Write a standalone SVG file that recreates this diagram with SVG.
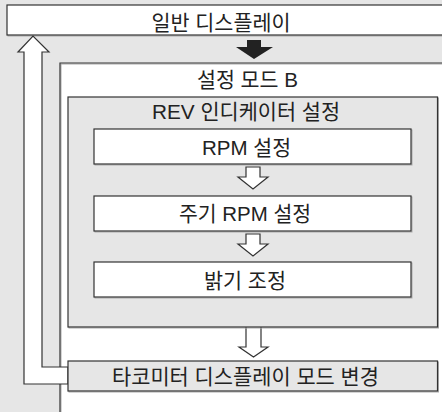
<svg xmlns="http://www.w3.org/2000/svg" width="442" height="412" viewBox="0 0 442 412">
<style>
.bx{stroke:#333;stroke-width:1.2}
.w{fill:#fff}
.g{fill:#e6e6e6}
.sh{fill:none;stroke:#aaa;stroke-width:1}
.t{font-family:"Liberation Sans","Noto Sans CJK KR",sans-serif;font-size:21px;fill:#222;text-anchor:middle}
.ar{fill:#fff;stroke:#333;stroke-width:1.2;stroke-linejoin:miter}
</style>
<rect x="0" y="0" width="442" height="412" fill="#e6e6e6"/>
<g id="node-general">
<rect class="sh" x="8" y="6" width="450" height="30"/>
<rect class="bx w" x="7" y="5" width="450" height="30"/>
<text class="t" x="221" y="30" textLength="139" lengthAdjust="spacingAndGlyphs">일반 디스플레이</text>
</g>
<g id="node-modeB">
<path d="M60 412 V63 H442 V412 Z" fill="#fff"/>
<path class="sh" d="M61 412 V64 H442"/>
<path class="bx" fill="none" d="M60 412 V63 H442"/>
<text class="t" x="247.5" y="87" textLength="101" lengthAdjust="spacingAndGlyphs">설정 모드 B</text>
</g>
<g id="connectors">
<polygon fill="#222" points="247,40 261,40 261,47 273,47 254,59 236,47 247,47"/>
<polygon class="ar" points="24,384 68,384 68,367 42,367 42,52 49,52 33,36 18,52 24,52"/>
<polygon class="ar" points="246,301 261,301 261,347 268,347 253.5,357 239,347 246,347"/>
</g>
<g id="node-rev">
<rect class="sh" x="69" y="98" width="369.5" height="230"/>
<rect class="bx g" x="68" y="97" width="369.5" height="230"/>
<text class="t" x="246" y="119" textLength="188" lengthAdjust="spacingAndGlyphs">REV 인디케이터 설정</text>
</g>
<g id="connectors-inner">
<polygon class="ar" points="246,167 260,167 260,177 268,177 253,189 238,177 246,177"/>
<polygon class="ar" points="246,234 260,234 260,244 268,244 253,256 238,244 246,244"/>
</g>
<g id="node-rpm">
<rect class="sh" x="95" y="130" width="317" height="35"/>
<rect class="bx w" x="94" y="129" width="317" height="35"/>
<text class="t" x="246.5" y="155" textLength="89" lengthAdjust="spacingAndGlyphs">RPM 설정</text>
</g>
<g id="node-cycle">
<rect class="sh" x="95" y="197" width="317" height="35"/>
<rect class="bx w" x="94" y="196" width="317" height="35"/>
<text class="t" x="245" y="221" textLength="132" lengthAdjust="spacingAndGlyphs">주기 RPM 설정</text>
</g>
<g id="node-bright">
<rect class="sh" x="95" y="263" width="317" height="35"/>
<rect class="bx w" x="94" y="262" width="317" height="35"/>
<text class="t" x="245" y="288" textLength="82" lengthAdjust="spacingAndGlyphs">밝기 조정</text>
</g>
<g id="node-tacho">
<rect class="sh" x="69" y="362" width="369.5" height="30"/>
<rect class="bx g" x="68" y="361" width="369.5" height="30"/>
<text class="t" x="245.5" y="384" textLength="267" lengthAdjust="spacingAndGlyphs">타코미터 디스플레이 모드 변경</text>
</g>
</svg>
